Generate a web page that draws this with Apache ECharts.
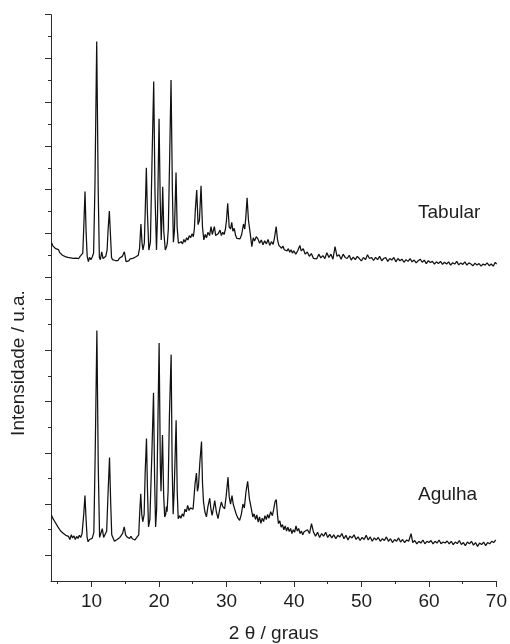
<!DOCTYPE html>
<html>
<head>
<meta charset="utf-8">
<script src="https://cdn.jsdelivr.net/npm/echarts@6/dist/echarts.min.js"></script>
<style>html,body{margin:0;padding:0;background:#fff;}#c{width:510px;height:644px;}</style>
</head>
<body>
<div id="c"></div>
<script>
// ---- data ----
var seriesNames = ['Tabular', 'Agulha'];
var xTitle = '2 θ / graus';
var yTitle = 'Intensidade / u.a.';
var xMajorTicks = [10, 20, 30, 40, 50, 60, 70];
var xMinorTicks = [5, 15, 25, 35, 45, 55, 65];
var topMajorTicks = [1, 3, 5, 7, 9, 11, 13];
var topMinorTicks = [2, 4, 6, 8, 10, 12];
var botMajorTicks = [1, 3, 5, 7, 9, 11];
var botMinorTicks = [2, 4, 6, 8, 10];

var tabularData = [
[4.1,2.56],[4.3,2.42],[4.5,2.45],[4.7,2.30],[4.9,2.22],[5.1,2.26],[5.3,2.12],[5.5,2.08],[5.7,2.00],[5.9,2.04],[6.1,1.94],[6.3,1.98],[6.5,1.90],[6.7,1.96],[6.9,1.88],[7.1,1.95],[7.3,1.86],[7.5,1.93],[7.7,1.87],[7.9,1.92],[8.1,1.85],[8.3,1.95],[8.5,1.90],[8.7,2.10],
[8.85,3.30],[9.03,4.91],[9.2,3.00],[9.35,1.95],[9.53,1.71],[9.7,1.90],[9.9,1.80],[10.1,1.92],[10.3,2.10],
[10.5,5.20],[10.76,11.77],[10.98,5.00],[11.15,1.90],[11.3,1.80],[11.5,2.16],[11.7,1.85],[11.9,1.82],[12.1,1.95],[12.3,2.25],
[12.45,3.20],[12.63,4.02],[12.8,2.90],[12.95,1.90],[13.1,1.80],[13.3,1.88],[13.5,1.76],[13.7,1.85],[13.9,1.75],[14.1,1.86],[14.3,1.78],[14.55,1.95],[14.85,2.16],[15.1,1.71],[15.3,1.80],[15.5,1.74],[15.7,1.84],[15.9,1.76],[16.1,1.86],[16.3,1.80],[16.5,1.92],[16.7,1.88],[16.9,2.00],[17.1,2.33],
[17.3,3.43],[17.45,2.60],[17.6,2.25],[17.8,2.55],[17.95,4.20],[18.1,6.00],[18.25,4.00],[18.47,2.24],[18.7,2.60],[18.95,6.50],[19.19,9.94],[19.38,4.80],[19.6,2.24],[19.75,3.80],[19.98,8.24],[20.15,4.50],[20.3,2.70],[20.4,3.60],[20.52,5.13],[20.68,3.10],[20.9,2.24],[21.1,2.40],[21.2,2.55],[21.35,3.20],[21.55,6.50],[21.75,10.01],[21.95,5.00],[22.1,2.60],[22.25,3.10],[22.49,5.78],[22.65,3.30],[22.84,2.55],
[23.05,2.47],[23.25,2.62],[23.45,2.52],[23.65,2.72],[23.85,2.60],[24.05,2.80],[24.25,2.70],[24.45,2.90],[24.65,2.80],[24.85,2.98],[25.05,2.85],[25.2,3.20],[25.35,4.10],[25.55,4.98],[25.75,3.40],[25.95,3.60],[26.19,5.18],
[26.4,3.30],[26.6,2.70],[26.8,2.95],[27.0,2.80],[27.2,3.05],[27.45,2.90],[27.67,3.31],[27.85,2.95],[28.0,3.00],[28.16,3.31],[28.35,2.90],[28.55,2.85],[28.75,3.00],[29.0,3.15],[29.2,2.90],[29.4,3.05],[29.6,2.95],[29.8,3.20],[29.95,3.60],[30.13,4.38],[30.35,3.30],[30.55,3.20],[30.73,3.51],[30.9,3.10],[31.1,3.23],[31.3,2.90],[31.5,2.77],[31.7,2.85],[31.95,2.75],[32.2,2.95],[32.47,3.43],[32.65,3.20],[32.8,3.70],[33.0,4.63],[33.2,3.60],[33.46,3.00],[33.7,2.39],[33.9,2.80],[34.1,2.65],[34.35,2.85],[34.6,2.75],[34.85,2.55],[35.1,2.70],[35.35,2.48],[35.6,2.66],[35.85,2.52],[36.1,2.72],[36.35,2.45],[36.6,2.62],[36.85,2.50],[37.05,2.80],[37.3,3.31],[37.5,2.70],[37.7,2.45],
[37.9,2.50],[38.1,2.32],[38.3,2.42],[38.5,2.25],[38.7,2.33],[38.9,2.20],[39.1,2.30],[39.3,2.14],[39.5,2.25],[39.7,2.10],[39.9,2.20],[40.2,2.05],[40.5,2.22],[40.8,2.45],[41.0,2.20],[41.3,2.30],[41.6,2.05],[41.9,2.15],[42.2,1.95],[42.5,2.08],[42.8,1.86],[43.0,1.95],[43.3,1.84],[43.6,2.05],[43.9,1.88],[44.2,1.98],[44.5,1.85],[44.8,2.12],[45.1,1.90],[45.4,2.05],[45.7,1.82],[46.0,2.40],[46.3,1.95],[46.6,2.02],[46.9,1.82],[47.2,2.05],[47.5,1.90],[47.8,1.85],[48.1,2.00],[48.4,1.78],[48.7,1.92],[49.0,1.80],[49.3,1.95],[49.6,1.85],[49.9,1.74],[50.2,1.90],[50.5,1.80],[50.8,2.02],[51.1,1.85],[51.4,1.90],[51.7,1.76],
[52.0,1.90],[52.3,1.80],[52.6,1.95],[52.9,1.75],[53.2,1.85],[53.5,1.90],[53.8,1.72],[54.1,1.85],[54.4,1.78],[54.7,1.90],[55.0,1.70],[55.3,1.85],[55.6,1.75],[55.9,1.82],[56.2,1.68],[56.5,1.80],[56.8,1.72],[57.1,1.85],[57.4,1.70],[57.7,1.78],[58.0,1.65],[58.3,1.75],[58.6,1.82],[58.9,1.68],[59.2,1.78],[59.5,1.62],[59.8,1.75],[60.1,1.67],[60.4,1.72],[60.7,1.60],[61.0,1.70],[61.3,1.62],[61.6,1.72],[61.9,1.58],[62.2,1.68],[62.5,1.60],[62.8,1.70],[63.1,1.55],[63.4,1.66],[63.7,1.60],[64.0,1.72],[64.3,1.56],[64.6,1.65],[64.9,1.58],[65.2,1.70],[65.5,1.55],[65.8,1.65],[66.1,1.60],[66.4,1.52],[66.7,1.64],[67.0,1.55],[67.3,1.62],[67.6,1.50],[67.9,1.60],[68.2,1.55],[68.5,1.65],[68.8,1.52],[69.1,1.60],[69.4,1.50],[69.7,1.68],[69.9,1.60]
];

var agulhaData = [
[4.1,2.56],[4.25,2.45],[4.4,2.50],[4.6,2.30],[4.8,2.25],[5.0,2.12],[5.2,2.05],[5.4,1.96],[5.6,1.98],[5.8,1.86],[6.0,1.90],[6.2,1.78],[6.4,1.84],[6.6,1.74],[6.8,1.62],[7.0,1.80],[7.2,1.68],[7.4,1.76],[7.6,1.62],[7.8,1.74],[8.0,1.66],[8.2,1.78],[8.4,1.70],[8.6,1.84],
[8.85,2.60],[9.03,3.33],[9.2,2.40],[9.35,1.70],[9.5,1.53],[9.7,1.62],[9.9,1.55],[10.1,1.66],[10.35,1.90],[10.55,5.00],[10.8,9.77],[11.0,4.50],[11.2,1.70],[11.4,1.75],[11.6,2.04],[11.8,1.70],[12.0,1.66],[12.25,1.95],[12.45,3.40],[12.67,4.82],[12.85,3.00],[13.0,1.80],[13.2,1.73],[13.4,1.55],[13.6,1.50],[13.8,1.62],[14.0,1.55],[14.2,1.70],[14.4,1.65],[14.6,1.85],[14.85,2.11],[15.05,1.80],[15.25,1.72],[15.45,1.78],[15.65,1.66],[15.85,1.74],[16.05,1.65],[16.25,1.72],[16.45,1.60],[16.65,1.68],[16.85,1.62],[17.0,1.80],[17.15,2.70],
[17.3,3.40],[17.45,2.60],[17.6,2.31],[17.8,2.60],[17.95,4.20],[18.15,5.56],[18.3,3.50],[18.45,2.11],[18.65,2.40],[18.95,5.00],[19.19,7.34],[19.35,4.00],[19.5,2.11],[19.65,2.80],[19.8,5.50],[20.02,9.28],[20.2,4.50],[20.3,3.50],[20.4,4.50],[20.52,5.69],[20.7,3.30],[20.85,2.50],[21.0,2.60],[21.1,2.90],[21.2,2.70],[21.35,3.50],[21.55,6.50],[21.8,8.83],[21.95,4.50],[22.1,2.60],[22.25,3.50],[22.54,6.27],[22.7,3.50],[22.85,2.43],
[23.05,2.55],[23.25,2.45],[23.45,2.62],[23.65,2.52],[23.85,2.80],[24.05,2.70],[24.25,2.95],[24.45,2.75],[24.65,2.85],[24.85,2.90],[25.05,2.80],[25.2,3.30],[25.35,3.80],[25.55,4.21],[25.7,3.50],[25.85,3.70],[26.05,4.60],[26.3,5.44],[26.45,3.80],[26.6,3.08],[26.8,2.70],[27.03,2.50],[27.25,2.90],[27.52,3.23],[27.7,2.80],[27.87,2.56],[28.05,2.80],[28.26,3.14],[28.5,2.70],[28.75,2.43],[29.0,2.80],[29.24,3.08],[29.45,2.90],[29.73,2.82],[29.95,3.30],[30.23,4.05],[30.4,3.30],[30.6,3.00],[30.82,3.33],[31.0,3.00],[31.2,2.82],[31.45,2.60],[31.7,2.45],[31.95,2.37],[32.2,2.60],[32.44,3.00],[32.65,2.85],[32.9,3.50],[33.14,3.89],[33.4,3.20],[33.68,2.82],[33.9,2.50],[34.1,2.62],[34.3,2.40],[34.5,2.58],[34.7,2.30],[34.9,2.50],[35.1,2.25],[35.3,2.45],[35.5,2.32],[35.7,2.55],[35.9,2.40],[36.1,2.60],[36.3,2.45],[36.55,2.70],[36.8,2.55],[37.0,2.80],[37.2,3.10],[37.38,3.18],[37.55,2.60],[37.7,2.24],[37.9,2.35],[38.1,2.10],[38.3,2.20],[38.5,2.00],[38.7,2.15],[38.9,1.95],[39.1,2.10],[39.3,1.93],[39.5,2.05],[39.7,1.85],[39.9,2.00],[40.1,1.90],[40.3,2.15],[40.5,1.95],[40.7,2.05],[40.9,1.85],[41.1,1.95],[41.3,1.80],[41.5,1.92],[41.7,1.85],[42.0,2.00],[42.3,1.85],[42.6,2.24],[42.9,1.90],[43.2,1.75],[43.5,1.90],[43.8,1.70],[44.1,1.85],[44.4,1.75],[44.7,1.90],[45.0,1.70],[45.3,1.82],[45.6,1.68],[45.9,1.80],[46.2,1.65],[46.5,1.78],[46.8,1.72],[47.1,1.85],[47.4,1.65],[47.7,1.78],[48.0,1.60],[48.3,1.75],[48.6,1.68],[48.9,1.80],[49.2,1.62],[49.5,1.72],[49.8,1.58],[50.1,1.70],[50.4,1.62],[50.7,1.78],[51.0,1.60],[51.3,1.72],[51.6,1.55],[51.9,1.68],[52.2,1.60],[52.5,1.70],[52.8,1.55],[53.1,1.65],[53.4,1.58],[53.7,1.72],[54.0,1.55],[54.3,1.65],[54.6,1.50],[54.9,1.62],[55.2,1.55],[55.5,1.68],[55.8,1.52],[56.1,1.62],[56.4,1.50],[56.7,1.60],[57.0,1.55],[57.35,1.85],[57.6,1.50],[57.9,1.58],[58.2,1.45],[58.5,1.55],[58.8,1.48],[59.1,1.60],[59.4,1.45],[59.7,1.55],[60.0,1.50],[60.3,1.58],[60.6,1.45],[60.9,1.55],[61.2,1.48],[61.5,1.60],[61.8,1.45],[62.1,1.52],[62.4,1.48],[62.7,1.56],[63.0,1.45],[63.3,1.55],[63.6,1.42],[63.9,1.52],[64.2,1.46],[64.5,1.58],[64.8,1.42],[65.1,1.50],[65.4,1.38],[65.7,1.52],[66.0,1.45],[66.3,1.55],[66.6,1.40],[66.9,1.50],[67.2,1.35],[67.5,1.48],[67.8,1.42],[68.1,1.52],[68.4,1.38],[68.7,1.50],[69.0,1.45],[69.3,1.55],[69.6,1.50],[69.9,1.60]
];

// ---- chart ----
var FONT = 'Liberation Sans, Arial, sans-serif';
var AX = '#2a2a2a';
var TXT = '#1e1e1e';
var LINE = '#111';
var chart = echarts.init(document.getElementById('c'), null, {renderer: 'canvas'});

function yPair(grid, maxV, majors, minors) {
  return [
    {gridIndex: grid, type: 'value', min: 0, max: maxV, position: 'left',
     axisLine: {show: true, lineStyle: {color: AX, width: 1}},
     axisTick: {show: true, customValues: majors, length: 6, lineStyle: {color: AX, width: 1}},
     axisLabel: {show: false}, splitLine: {show: false}},
    {gridIndex: grid, type: 'value', min: 0, max: maxV, position: 'left',
     axisLine: {show: false},
     axisTick: {show: true, customValues: minors, length: 3, lineStyle: {color: AX, width: 1}},
     axisLabel: {show: false}, splitLine: {show: false}}
  ];
}

var option = {
  animation: false,
  backgroundColor: '#fff',
  grid: [
    {left: 51, right: 12.7, top: 14.7, height: 284.3},
    {left: 51, right: 12.7, top: 299, height: 283.7}
  ],
  xAxis: [
    {gridIndex: 0, type: 'value', min: 4, max: 70, show: false},
    {gridIndex: 1, type: 'value', min: 4, max: 70, position: 'bottom',
     axisLine: {show: true, onZero: false, lineStyle: {color: AX, width: 1}},
     axisTick: {show: true, customValues: xMajorTicks, length: 6, lineStyle: {color: AX, width: 1}},
     axisLabel: {show: true, customValues: xMajorTicks, fontSize: 19, fontFamily: FONT, color: TXT, margin: 11},
     splitLine: {show: false},
     name: xTitle, nameLocation: 'middle', nameGap: 43,
     nameTextStyle: {fontSize: 19, fontFamily: FONT, color: TXT}},
    {gridIndex: 1, type: 'value', min: 4, max: 70, position: 'bottom',
     axisLine: {show: false, onZero: false},
     axisTick: {show: true, customValues: xMinorTicks, length: 3, lineStyle: {color: AX, width: 1}},
     axisLabel: {show: false}, splitLine: {show: false}}
  ],
  yAxis: yPair(0, 13, topMajorTicks, topMinorTicks).concat(yPair(1, 11, botMajorTicks, botMinorTicks)),
  series: [
    {name: seriesNames[0], type: 'line', xAxisIndex: 0, yAxisIndex: 0, data: tabularData,
     showSymbol: false, symbol: 'none', smooth: false,
     lineStyle: {color: LINE, width: 1.25}},
    {name: seriesNames[1], type: 'line', xAxisIndex: 1, yAxisIndex: 2, data: agulhaData,
     showSymbol: false, symbol: 'none', smooth: false,
     lineStyle: {color: LINE, width: 1.25}}
  ],
  graphic: [
    {type: 'text', x: 418, y: 213, style: {text: seriesNames[0], font: '19px ' + FONT, fill: TXT, verticalAlign: 'middle', align: 'left'}},
    {type: 'text', x: 418, y: 495, style: {text: seriesNames[1], font: '19px ' + FONT, fill: TXT, verticalAlign: 'middle', align: 'left'}},
    {type: 'text', x: 19, y: 363, rotation: Math.PI / 2, style: {text: yTitle, font: '19px ' + FONT, fill: TXT, verticalAlign: 'middle', align: 'center'}}
  ]
};
chart.setOption(option);
</script>
</body>
</html>
